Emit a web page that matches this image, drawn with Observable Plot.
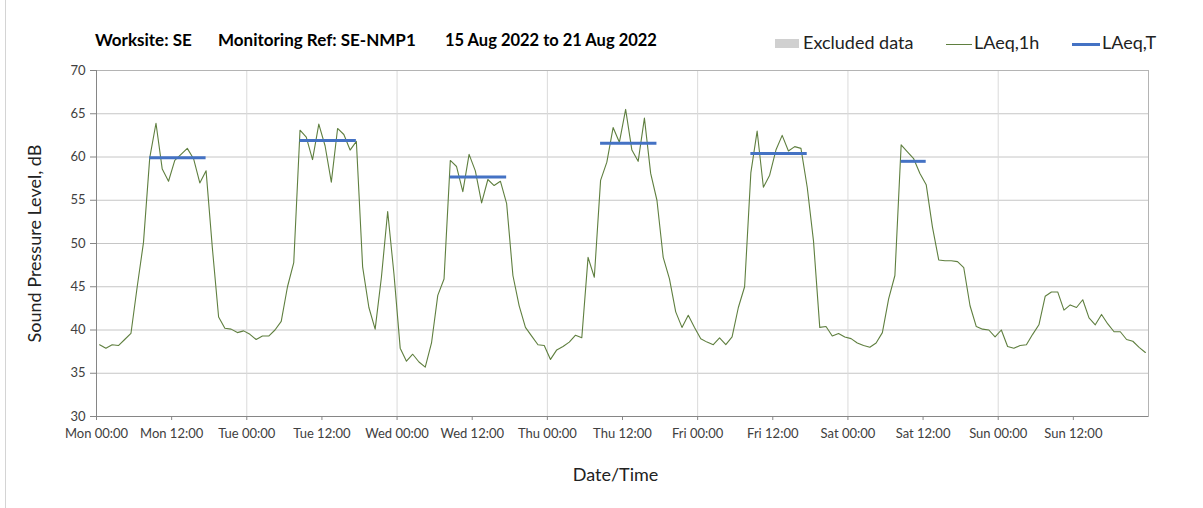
<!DOCTYPE html>
<html>
<head>
<meta charset="utf-8">
<script src="https://cdn.jsdelivr.net/npm/d3@7"></script>
<script src="https://cdn.jsdelivr.net/npm/@observablehq/plot@0.6"></script>
<style>
  body { margin: 0; background: #fff; font-family: Lato, "Open Sans", sans-serif; }
  #wrap { position: relative; width: 1203px; height: 508px; overflow: hidden; background: #fff; }
  #edge { position: absolute; left: 5px; top: 0; width: 1px; height: 508px; background: #d4d4d4; z-index: 2; }
  .t { position: absolute; top: 29px; font-weight: bold; font-size: 17px; color: #000; white-space: nowrap; }
  .lg { position: absolute; top: 31px; font-size: 18px; color: #222; white-space: nowrap; }
  .sw { position: absolute; }
  #chart { position: absolute; left: 0; top: 60px; }
</style>
</head>
<body>
<div id="wrap">
  <div id="chart"></div>
  <div id="edge"></div>
  <div class="t" style="left:95px">Worksite: SE</div>
  <div class="t" style="left:218px">Monitoring Ref: SE-NMP1</div>
  <div class="t" style="left:445px;font-size:16.5px;top:30px">15 Aug 2022 to 21 Aug 2022</div>
  <div class="sw" style="left:775px;top:39px;width:24px;height:9px;background:#d0d0d0"></div>
  <div class="lg" style="left:803px">Excluded data</div>
  <div class="sw" style="left:946px;top:43.5px;width:26px;height:1px;background:#5f7f3f"></div>
  <div class="lg" style="left:974px">LAeq,1h</div>
  <div class="sw" style="left:1072px;top:42.5px;width:28px;height:3px;background:#4472c4"></div>
  <div class="lg" style="left:1102px">LAeq,T</div>
</div>
<script>
// ---- data ----
const startTime = "2022-08-15T00:00:00Z";
const endTime = "2022-08-22T00:00:00Z";
const pointOffsetHours = 0.5; // hourly values plotted mid-hour
const laeq1h = [
  38.3, 37.9, 38.3, 38.2, 38.9, 39.6, 45.0, 50.1, 59.9, 63.9, 58.6, 57.2,
  59.6, 60.3, 61.0, 59.8, 57.0, 58.4, 49.5, 41.5, 40.2, 40.1, 39.7, 39.9,
  39.5, 38.9, 39.3, 39.3, 40.0, 41.0, 45.0, 47.8, 63.1, 62.3, 59.7, 63.8,
  61.3, 57.1, 63.3, 62.6, 60.8, 61.8, 47.3, 42.6, 40.1, 46.1, 53.7, 46.5,
  37.9, 36.4, 37.2, 36.3, 35.7, 38.5, 44.0, 45.9, 59.6, 58.9, 56.0, 60.3,
  58.4, 54.7, 57.4, 56.7, 57.2, 54.6, 46.3, 42.8, 40.3, 39.3, 38.3, 38.2,
  36.6, 37.7, 38.1, 38.6, 39.4, 39.1, 48.4, 46.1, 57.3, 59.4, 63.4, 61.7,
  65.5, 60.8, 59.5, 64.5, 58.1, 55.0, 48.4, 45.9, 42.1, 40.3, 41.7, 40.3,
  39.0, 38.6, 38.3, 39.1, 38.3, 39.2, 42.6, 45.0, 58.2, 63.0, 56.5, 57.9,
  60.8, 62.5, 60.7, 61.2, 61.0, 56.5, 50.3, 40.3, 40.4, 39.3, 39.6, 39.2,
  39.0, 38.5, 38.2, 38.0, 38.5, 39.7, 43.6, 46.3, 61.4, 60.6, 59.8, 58.1,
  56.8, 51.9, 48.1, 48.0, 48.0, 47.9, 47.2, 42.8, 40.4, 40.1, 40.0, 39.2,
  40.0, 38.1, 37.9, 38.2, 38.3, 39.5, 40.6, 43.9, 44.4, 44.4, 42.3, 42.9,
  42.6, 43.5, 41.4, 40.6, 41.8, 40.7, 39.8, 39.8, 38.9, 38.7, 38.0, 37.4
];
const periodStartHour = [8, 32, 56, 80, 104, 128];
const periodEndHour   = [17, 41, 65, 89, 113, 132];
const laeqT = [59.9, 61.9, 57.7, 61.6, 60.4, 59.5];
const yTicks = [30, 35, 40, 45, 50, 55, 60, 65, 70];
const yLabel = "Sound Pressure Level, dB";
const xLabel = "Date/Time";

// ---- build tables ----
const t0 = new Date(startTime), t1 = new Date(endTime);
const H = 3600e3;
const atHour = h => new Date(+t0 + (h + pointOffsetHours) * H);
const series = laeq1h.map((v, i) => ({time: atHour(i), v}));
const periods = laeqT.map((v, i) => ({start: atHour(periodStartHour[i]), end: atHour(periodEndHour[i]), v}));
const xTicks = d3.utcHour.every(12).range(t0, t1);
const dayLines = d3.utcDay.range(t0, t1);

const chart = Plot.plot({
  width: 1203,
  height: 448,
  marginLeft: 96,
  marginRight: 55,
  marginTop: 10,
  marginBottom: 92,
  style: {fontFamily: "Lato, 'Open Sans', sans-serif", fontSize: "13px", background: "white", color: "#404040"},
  x: {type: "utc", domain: [t0, t1]},
  y: {domain: [30, 70]},
  marks: [
    Plot.gridY({ticks: yTicks, stroke: "#c6c6c6", strokeOpacity: 1}),
    Plot.gridX({ticks: dayLines, stroke: "#dadada", strokeOpacity: 1}),
    Plot.frame({stroke: "#b4b4b4"}),
    Plot.axisY({ticks: yTicks, tickSize: 6, tickPadding: 5, label: null, stroke: "#868686", fill: "#404040", fontSize: 13}),
    Plot.axisX({ticks: xTicks, tickFormat: d3.utcFormat("%a %H:%M"), tickSize: 4, tickPadding: 8, label: null, stroke: "#868686", fill: "#404040", fontSize: 13}),
    Plot.ruleY([30], {stroke: "#868686"}),
    Plot.ruleX([t0], {stroke: "#868686"}),
    Plot.line(series, {x: "time", y: "v", stroke: "#5f7f3f", strokeWidth: 1.1}),
    Plot.ruleY(periods, {x1: "start", x2: "end", y: "v", stroke: "#4472c4", strokeWidth: 3}),
    Plot.text([yLabel], {frameAnchor: "left", textAnchor: "middle", dx: -61, rotate: -90, fontSize: 18, fill: "#222"}),
    Plot.text([xLabel], {frameAnchor: "bottom", dx: -7, dy: 64, fontSize: 18, fill: "#222"})
  ]
});
document.getElementById("chart").appendChild(chart);
</script>
</body>
</html>
